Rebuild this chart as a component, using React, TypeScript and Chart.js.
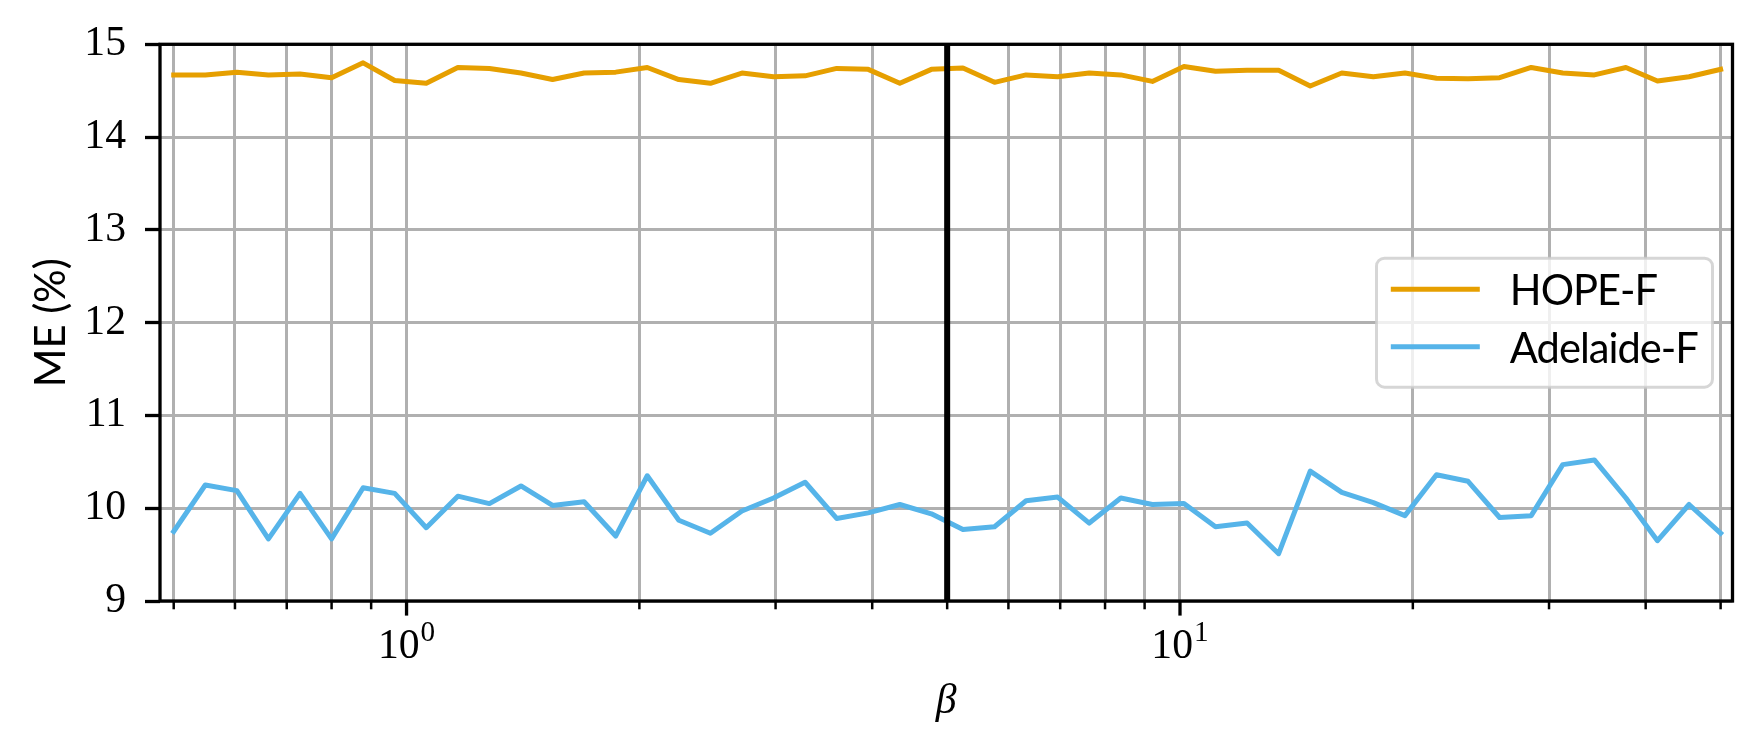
import React, { useEffect, useRef } from 'react';
import { Chart, registerables } from 'chart.js';

Chart.register(...registerables);

// ---- data ----
const BETA = [
  0.5, 0.54927, 0.6034, 0.66285, 0.72818, 0.79993, 0.87876, 0.96535, 1.06048, 1.16498,
  1.27977, 1.40589, 1.54442, 1.69661, 1.8638, 2.04746, 2.24922, 2.47086, 2.71434, 2.98181,
  3.27565, 3.59843, 3.95302, 4.34256, 4.77048, 5.24055, 5.75698, 6.32425, 6.94748, 7.6321,
  8.38416, 9.21034, 10.118, 11.115, 12.2102, 13.4135, 14.7353, 16.1873, 17.7824, 19.5347,
  21.4597, 23.5743, 25.8974, 28.4493, 31.2527, 34.3325, 37.7156, 41.4321, 45.5149, 50,
];

const HOPE_F = [
  14.67, 14.67, 14.7, 14.67, 14.68, 14.64, 14.8, 14.61, 14.58, 14.75,
  14.74, 14.69, 14.62, 14.69, 14.7, 14.75, 14.62, 14.58, 14.69, 14.65,
  14.66, 14.74, 14.73, 14.58, 14.73, 14.745, 14.59, 14.67, 14.65, 14.69,
  14.67, 14.6, 14.76, 14.71, 14.72, 14.72, 14.55, 14.69, 14.65, 14.69,
  14.635, 14.63, 14.64, 14.75, 14.69, 14.67, 14.75, 14.605, 14.65, 14.73,
];

const ADELAIDE_F = [
  9.75, 10.25, 10.19, 9.67, 10.16, 9.67, 10.22, 10.16, 9.79, 10.13,
  10.05, 10.24, 10.03, 10.07, 9.7, 10.35, 9.87, 9.73, 9.97, 10.11,
  10.28, 9.89, 9.95, 10.04, 9.94, 9.77, 9.8, 10.08, 10.12, 9.84,
  10.11, 10.04, 10.05, 9.8, 9.84, 9.51, 10.4, 10.17, 10.06, 9.92,
  10.36, 10.29, 9.9, 9.92, 10.47, 10.52, 10.11, 9.65, 10.04, 9.73,
];

const SERIES_LABELS = ['HOPE-F', 'Adelaide-F'];
const SERIES_COLORS = ['#E69F00', '#56B4E9'];

const X_MAJOR_TICKS = [1, 10];
const X_MAJOR_EXPONENTS = ['0', '1'];
const X_MINOR_TICKS = [0.5, 0.6, 0.7, 0.8, 0.9, 2, 3, 4, 5, 6, 7, 8, 9, 20, 30, 40, 50];
const Y_TICKS = [9, 10, 11, 12, 13, 14, 15];
const BETA_MARKER = 5;

const X_MIN = 0.48;
const X_MAX = 51.8;
const Y_MIN = 9;
const Y_MAX = 15;

const X_TITLE = 'β';
const Y_TITLE = 'ME (%)';

// ---- style ----
const W = 1762;
const H = 750;
const FS = 41.7;
const SERIF = '"Liberation Serif", "DejaVu Serif", serif';
const SANS = 'Lato, "Open Sans", sans-serif';
const GRID = '#b0b0b0';

const overlayPlugin = {
  id: 'overlay',
  afterDatasetsDraw(chart: any) {
    const { ctx, chartArea: a } = chart;
    const x = chart.scales.x;
    ctx.save();

    // vertical marker line
    const mx = x.getPixelForValue(BETA_MARKER);
    ctx.strokeStyle = '#000';
    ctx.lineWidth = 6;
    ctx.beginPath();
    ctx.moveTo(mx, a.top);
    ctx.lineTo(mx, a.bottom);
    ctx.stroke();

    // frame
    ctx.lineWidth = 3.3;
    ctx.strokeRect(a.left, a.top, a.right - a.left, a.bottom - a.top);

    // x tick marks
    ctx.lineWidth = 2.5;
    X_MINOR_TICKS.forEach((v) => {
      const p = x.getPixelForValue(v);
      ctx.beginPath();
      ctx.moveTo(p, a.bottom);
      ctx.lineTo(p, a.bottom + 8.3);
      ctx.stroke();
    });
    ctx.lineWidth = 3.3;
    X_MAJOR_TICKS.forEach((v) => {
      const p = x.getPixelForValue(v);
      ctx.beginPath();
      ctx.moveTo(p, a.bottom);
      ctx.lineTo(p, a.bottom + 14.6);
      ctx.stroke();
    });

    // x tick labels 10^n
    ctx.fillStyle = '#000';
    ctx.textBaseline = 'alphabetic';
    ctx.textAlign = 'left';
    const baseFont = `${FS}px ${SERIF}`;
    const expFont = `${FS * 0.7}px ${SERIF}`;
    X_MAJOR_TICKS.forEach((v, i) => {
      const p = x.getPixelForValue(v);
      ctx.font = baseFont;
      const w1 = ctx.measureText('10').width;
      ctx.font = expFont;
      const w2 = ctx.measureText(X_MAJOR_EXPONENTS[i]).width;
      const start = p - (w1 + w2 + 1) / 2;
      const baseY = a.bottom + 57;
      ctx.font = baseFont;
      ctx.fillText('10', start, baseY);
      ctx.font = expFont;
      ctx.fillText(X_MAJOR_EXPONENTS[i], start + w1 + 1, baseY - 17);
    });

    // legend
    ctx.font = `${FS}px ${SANS}`;
    (ctx as any).letterSpacing = '-1px';
    const datasets = chart.data.datasets;
    const padL = 14.3;
    const handleLen = 89;
    const textOffset = 133.3;
    const boxW = 336;
    const boxH = 129;
    const boxRight = a.right - 20;
    const boxLeft = boxRight - boxW;
    const boxTop = (a.top + a.bottom) / 2 - boxH / 2;
    const r = 8;
    ctx.beginPath();
    ctx.moveTo(boxLeft + r, boxTop);
    ctx.lineTo(boxRight - r, boxTop);
    ctx.arcTo(boxRight, boxTop, boxRight, boxTop + r, r);
    ctx.lineTo(boxRight, boxTop + boxH - r);
    ctx.arcTo(boxRight, boxTop + boxH, boxRight - r, boxTop + boxH, r);
    ctx.lineTo(boxLeft + r, boxTop + boxH);
    ctx.arcTo(boxLeft, boxTop + boxH, boxLeft, boxTop + boxH - r, r);
    ctx.lineTo(boxLeft, boxTop + r);
    ctx.arcTo(boxLeft, boxTop, boxLeft + r, boxTop, r);
    ctx.closePath();
    ctx.fillStyle = 'rgba(255,255,255,0.8)';
    ctx.fill();
    ctx.strokeStyle = 'rgba(204,204,204,0.8)';
    ctx.lineWidth = 3;
    ctx.stroke();

    datasets.forEach((d: any, i: number) => {
      const cy = boxTop + 31 + i * 57.6;
      ctx.strokeStyle = d.borderColor;
      ctx.lineWidth = 5;
      ctx.lineCap = 'butt';
      ctx.beginPath();
      ctx.moveTo(boxLeft + padL, cy);
      ctx.lineTo(boxLeft + padL + handleLen, cy);
      ctx.stroke();
      ctx.fillStyle = '#000';
      ctx.textBaseline = 'alphabetic';
      ctx.fillText(d.label, boxLeft + textOffset, cy + 16);
    });

    ctx.restore();
  },
};

export default function App() {
  const ref = useRef<HTMLCanvasElement | null>(null);

  useEffect(() => {
    document.body.style.margin = '0';
    document.body.style.overflow = 'hidden';
    const canvas = ref.current;
    if (!canvas) return;
    const chart = new Chart(canvas, {
      type: 'line',
      data: {
        datasets: [
          {
            label: SERIES_LABELS[0],
            data: BETA.map((b, i) => ({ x: b, y: HOPE_F[i] })),
            borderColor: SERIES_COLORS[0],
            backgroundColor: SERIES_COLORS[0],
            borderWidth: 5,
            pointRadius: 0,
            tension: 0,
            fill: false,
            borderJoinStyle: 'round',
            borderCapStyle: 'square',
          },
          {
            label: SERIES_LABELS[1],
            data: BETA.map((b, i) => ({ x: b, y: ADELAIDE_F[i] })),
            borderColor: SERIES_COLORS[1],
            backgroundColor: SERIES_COLORS[1],
            borderWidth: 5,
            pointRadius: 0,
            tension: 0,
            fill: false,
            borderJoinStyle: 'round',
            borderCapStyle: 'square',
          },
        ],
      },
      options: {
        animation: false,
        responsive: false,
        devicePixelRatio: 1,
        layout: { padding: { left: 0, top: 44.3, right: 29.5, bottom: 0 } },
        plugins: {
          legend: { display: false },
          tooltip: { enabled: false },
        },
        scales: {
          x: {
            type: 'logarithmic',
            min: X_MIN,
            max: X_MAX,
            afterBuildTicks: (scale: any) => {
              scale.ticks = [...X_MINOR_TICKS, ...X_MAJOR_TICKS]
                .sort((p, q) => p - q)
                .map((v) => ({ value: v, major: X_MAJOR_TICKS.includes(v) }));
            },
            afterFit: (scale: any) => {
              scale.height = H - 601;
            },
            ticks: { display: false },
            grid: {
              color: GRID,
              lineWidth: 3,
              drawTicks: false,
            },
            border: { display: false },
            title: {
              display: true,
              text: X_TITLE,
              color: '#000',
              font: { family: SERIF, size: FS, style: 'italic' },
              padding: { top: 0, bottom: 23 },
            },
          },
          y: {
            type: 'linear',
            min: Y_MIN,
            max: Y_MAX,
            afterBuildTicks: (scale: any) => {
              scale.ticks = Y_TICKS.map((v) => ({ value: v }));
            },
            afterFit: (scale: any) => {
              scale.width = 160;
            },
            ticks: {
              color: '#000',
              font: { family: SERIF, size: FS },
              padding: 19,
            },
            grid: {
              color: GRID,
              lineWidth: 3,
              drawTicks: true,
              tickLength: 15,
              tickColor: '#000',
              tickWidth: 3.3,
            },
            border: { display: false },
            title: {
              display: true,
              text: Y_TITLE,
              color: '#000',
              font: { family: SANS, size: FS },
              padding: { top: 27, bottom: 0 },
            },
          },
        },
      },
      plugins: [overlayPlugin],
    } as any);
    return () => chart.destroy();
  }, []);

  return (
    <div style={{ width: W, height: H }}>
      <canvas ref={ref} width={W} height={H} style={{ display: 'block', width: W, height: H }} />
    </div>
  );
}
